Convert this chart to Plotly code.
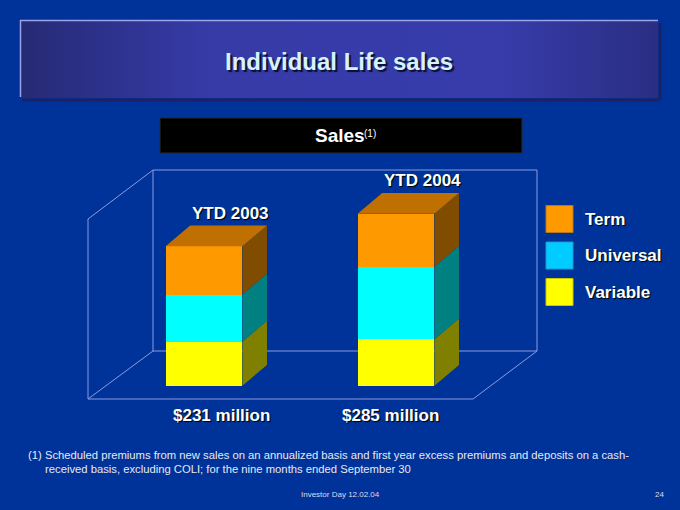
import plotly.graph_objects as go

# data (in $ millions), bottom to top of each stack
years = ["YTD 2003", "YTD 2004"]
series = ["Variable", "Universal", "Term"]
variable = [73, 77]
universal = [78, 120]
term = [80, 88]
totals = [a + b + c for a, b, c in zip(variable, universal, term)]
total_labels = [f"${t} million" for t in totals]

front = {"Variable": "#ffff00", "Universal": "#00ffff", "Term": "#ff9900"}
side = {"Variable": "#808000", "Universal": "#008080", "Term": "#804c00"}
top_col = "#c07000"
legend_col = {"Term": "#ff9900", "Universal": "#00ccff", "Variable": "#ffff00"}
legend_edge = {"Term": "#b87818", "Universal": "#1c98c8", "Variable": "#c8c800"}

W, H = 680, 510
BG = "#003399"
FONT = "Liberation Sans, Arial, sans-serif"

# axis mapping: bar 0 centre at 204px, 192px per category, baseline at 385.7px
X0, PXU = 204, 192
Y0, YPP = 385.7, 1.657
BW = 0.4              # bar width (category units)
DX, DY = 0.128, 34.5  # 3d depth offsets

pos = list(range(len(years)))


def P(x, y):
    # pixel -> paper coordinates
    return x / W, 1 - y / H


fig = go.Figure()

# title banner with gradient (pixel overlay axes)
fig.add_trace(go.Scatter(
    x=[20, 658, 658, 20, 20], y=[21, 21, 98, 98, 21],
    xaxis="x2", yaxis="y2", mode="none", fill="toself",
    fillgradient=dict(type="horizontal", colorscale=[
        [0, "#262a74"], [0.3, "#363ba8"], [0.75, "#373cab"], [1, "#2a2e82"]]),
    hoverinfo="skip", showlegend=False))

vals = {"Variable": variable, "Universal": universal, "Term": term}
base = [0] * len(years)
for name in series:
    v = vals[name]
    fig.add_trace(go.Bar(x=pos, y=v, width=BW, name=name,
                         marker=dict(color=front[name], line=dict(width=0)),
                         showlegend=False, hoverinfo="skip"))
    xs, ys = [], []
    for i, val in enumerate(v):
        r = pos[i] + BW / 2
        b, t = base[i], base[i] + val
        xs += [r, r + DX, r + DX, r, r, None]
        ys += [b, b + DY, t + DY, t, b, None]
    fig.add_trace(go.Scatter(x=xs, y=ys, mode="none", fill="toself",
                             fillcolor=side[name], showlegend=False,
                             hoverinfo="skip"))
    base = [b + val for b, val in zip(base, v)]

# top faces
xs, ys = [], []
for i, t in enumerate(totals):
    l, r = pos[i] - BW / 2, pos[i] + BW / 2
    xs += [l, l + DX, r + DX, r, l, None]
    ys += [t, t + DY, t + DY, t, t, None]
fig.add_trace(go.Scatter(x=xs, y=ys, mode="none", fill="toself",
                         fillcolor=top_col, showlegend=False, hoverinfo="skip"))

shapes = []
# 3d frame lines
frame = [((153, 170), (537, 170)), ((537, 170), (537, 351)),
         ((153, 170), (153, 351)), ((153, 351), (537, 351)),
         ((88, 219), (153, 170)), ((88, 219), (88, 399)),
         ((88, 399), (473, 399)), ((473, 399), (537, 351)),
         ((88, 399), (153, 351))]
for (xa, ya), (xb, yb) in frame:
    x0, y0 = P(xa, ya)
    x1, y1 = P(xb, yb)
    shapes.append(dict(type="line", xref="paper", yref="paper", x0=x0, y0=y0,
                       x1=x1, y1=y1, line=dict(color="#8c9be0", width=1),
                       layer="below"))

# banner border and shadow
for (xa, ya), (xb, yb), c, w in [((22, 100), (660, 100), "#1c2066", 3),
                                 ((660, 23), (660, 100), "#1c2066", 3),
                                 ((20, 20.5), (658, 20.5), "#9ea2e6", 1.5),
                                 ((20.5, 20), (20.5, 97), "#9ea2e6", 1.5)]:
    x0, y0 = P(xa, ya)
    x1, y1 = P(xb, yb)
    shapes.append(dict(type="line", xref="paper", yref="paper", x0=x0, y0=y0,
                       x1=x1, y1=y1, line=dict(color=c, width=w)))

# "Sales" header box
x0, y0 = P(160, 153)
x1, y1 = P(522, 118)
shapes.append(dict(type="rect", xref="paper", yref="paper", x0=x0, y0=y0,
                   x1=x1, y1=y1, fillcolor="#000000",
                   line=dict(color="#2a2a2a", width=1)))

# legend squares
annotations = []
for name, yc in [("Term", 219), ("Universal", 255.5), ("Variable", 292)]:
    x0, y0 = P(546, yc + 13.5)
    x1, y1 = P(573, yc - 13.5)
    shapes.append(dict(type="rect", xref="paper", yref="paper", x0=x0, y0=y0,
                       x1=x1, y1=y1, fillcolor=legend_col[name],
                       line=dict(color=legend_edge[name], width=1)))
    ax, ay = P(583, yc)
    annotations.append(dict(xref="paper", yref="paper", x=ax, y=ay, text=name,
                            xanchor="left", yanchor="middle", showarrow=False,
                            font=dict(family=FONT, size=17, color="white",
                                      weight="bold", shadow="1px 1px 1px #000000")))

# title text
ax, ay = P(339, 61)
annotations.append(dict(xref="paper", yref="paper", x=ax, y=ay,
                        text="Individual Life sales", showarrow=False,
                        xanchor="center", yanchor="middle",
                        font=dict(family=FONT, size=24, color="#d6f2ff",
                                  weight="bold", shadow="2px 2px 1px #0c0e30")))
ax, ay = P(364, 136)
annotations.append(dict(xref="paper", yref="paper", x=ax, y=ay,
                        text="Sales", showarrow=False, borderpad=0,
                        xanchor="right", yanchor="middle", xshift=2,
                        font=dict(family=FONT, size=19, color="white",
                                  weight="bold")))
ax, ay = P(364, 134)
annotations.append(dict(xref="paper", yref="paper", x=ax, y=ay,
                        text="(1)", showarrow=False, borderpad=0,
                        xanchor="left", yanchor="middle", xshift=-1,
                        font=dict(family=FONT, size=10, color="white")))

# year labels above bars, totals below
for i, (yr, t) in enumerate(zip(years, totals)):
    annotations.append(dict(x=pos[i] + DX + 0.01, y=t + DY, text=yr,
                            showarrow=False, yshift=12, xanchor="center",
                            yanchor="middle",
                            font=dict(family=FONT, size=17, color="white",
                                      weight="bold", shadow="1px 1px 1px #000000")))
for i, (lab, xs_) in enumerate(zip(total_labels, [17, -6])):
    annotations.append(dict(x=pos[i], y=0, text=lab, showarrow=False,
                            xshift=xs_, yshift=-30, xanchor="center",
                            yanchor="middle",
                            font=dict(family=FONT, size=17, color="white",
                                      weight="bold", shadow="1px 1px 1px #000000")))

# footnotes
foot = [("(1) Scheduled premiums from new sales on an annualized basis and first "
         "year excess premiums and deposits on a cash-", 26, 455),
        ("received basis, excluding COLI; for the nine months ended September 30", 43, 469)]
for txt, fx, fy in foot:
    ax, ay = P(fx, fy)
    annotations.append(dict(xref="paper", yref="paper", x=ax, y=ay, text=txt,
                            showarrow=False, xanchor="left", yanchor="middle",
                            font=dict(family=FONT, size=11.25, color="#e8e8f2")))
ax, ay = P(340, 494)
annotations.append(dict(xref="paper", yref="paper", x=ax, y=ay,
                        text="Investor Day 12.02.04", showarrow=False,
                        xanchor="center", yanchor="middle",
                        font=dict(family=FONT, size=8, color="#dcdcec")))
ax, ay = P(659, 494)
annotations.append(dict(xref="paper", yref="paper", x=ax, y=ay, text="24",
                        showarrow=False, xanchor="center", yanchor="middle",
                        font=dict(family=FONT, size=8, color="#dcdcec")))

fig.update_layout(
    width=W, height=H, margin=dict(l=0, r=0, t=0, b=0),
    paper_bgcolor=BG, plot_bgcolor="rgba(0,0,0,0)",
    barmode="stack", bargap=0, showlegend=False,
    xaxis=dict(range=[-X0 / PXU, (W - X0) / PXU], visible=False, fixedrange=True),
    yaxis=dict(range=[-(H - Y0) * YPP, Y0 * YPP], visible=False, fixedrange=True),
    xaxis2=dict(range=[0, W], overlaying="x", visible=False, fixedrange=True),
    yaxis2=dict(range=[H, 0], overlaying="y", visible=False, fixedrange=True),
    shapes=shapes, annotations=annotations,
)

# page body has a default 8px margin; remove it so the figure fills the window
fig.write_html("out.html", config={"displayModeBar": False},
               post_script="document.body.style.margin='0';")
